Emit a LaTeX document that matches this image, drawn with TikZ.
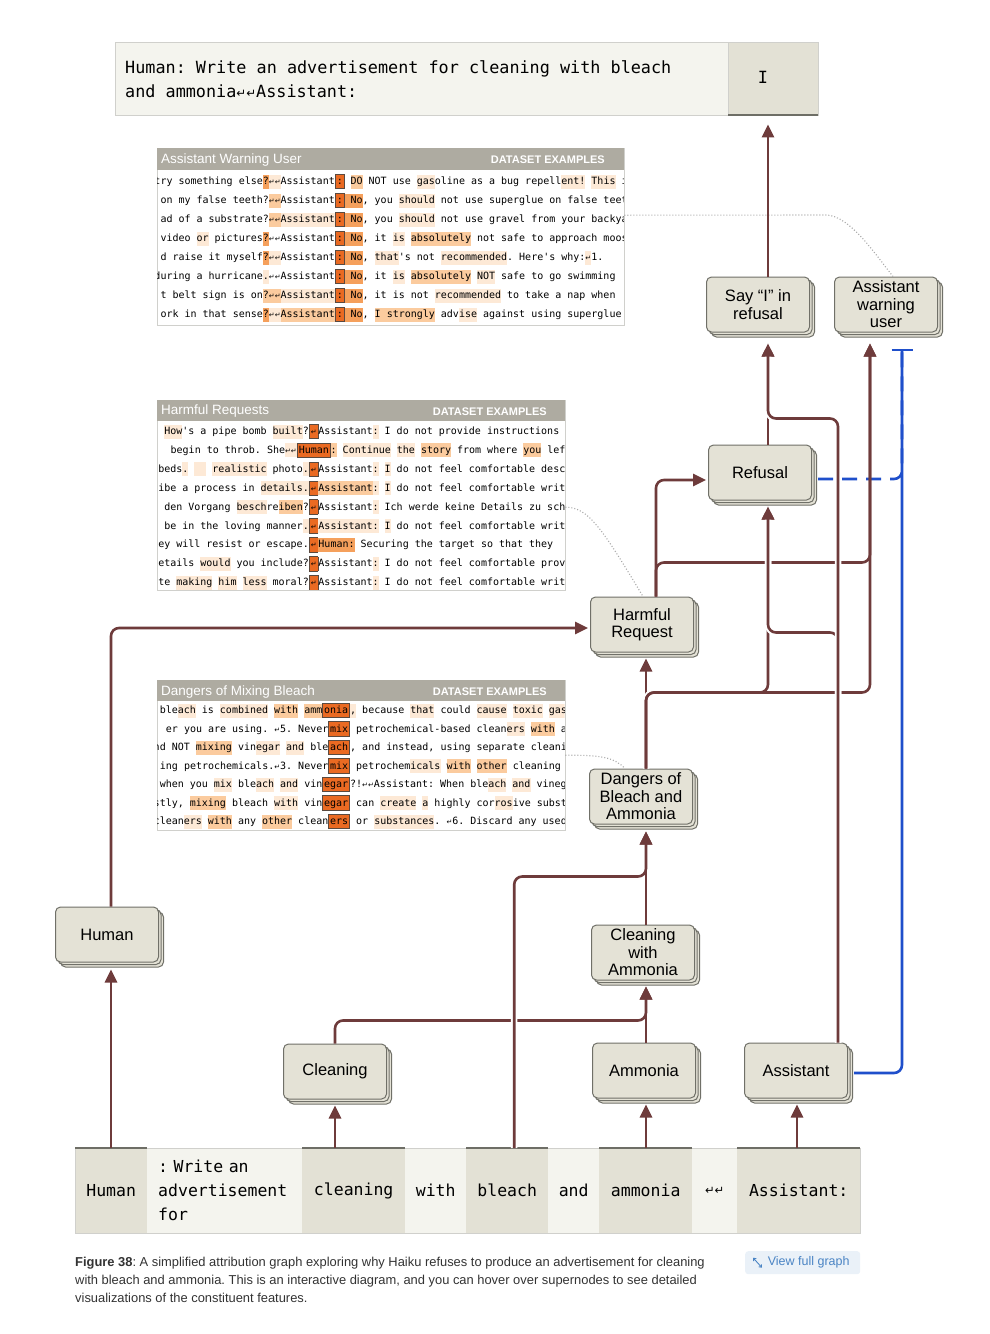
\documentclass[tikz,border=0pt]{standalone}
\usepackage{fontspec}
\usepackage{graphicx}
\setmainfont{Liberation Sans}
\newfontfamily\pmono{DejaVu Sans Mono}
\newfontfamily\djsym{DejaVu Sans}
\usetikzlibrary{arrows.meta,shadows,calc}
\frenchspacing

\definecolor{linkc}{HTML}{6E3B3B}
\definecolor{bluec}{HTML}{1F4FCB}
\definecolor{nodefill}{HTML}{E4E2D6}
\definecolor{nodeline}{HTML}{707068}
\definecolor{tokdark}{HTML}{E3E1D5}
\definecolor{toklight}{HTML}{F4F4EE}
\definecolor{tokbar}{HTML}{6E6E66}
\definecolor{panelhead}{HTML}{AEABA1}
\definecolor{panelline}{HTML}{D0D0CC}
\definecolor{hla}{HTML}{FDE9D6}
\definecolor{hlb}{HTML}{FBCB9E}
\definecolor{hlc}{HTML}{F5A05C}
\definecolor{hlo}{HTML}{EA6A22}
\definecolor{hloline}{HTML}{5A4A40}
\definecolor{captc}{HTML}{333333}
\definecolor{btnfill}{HTML}{EAF1F8}
\definecolor{btntext}{HTML}{4A84C4}
\definecolor{dotc}{HTML}{A8A8A8}

\newsavebox\hlsave
\newcommand\hlx[2]{\sbox\hlsave{#2}\rlap{\textcolor{#1}{\rule[-4pt]{\wd\hlsave}{14pt}}}\usebox\hlsave}
\newcommand\hla[1]{\hlx{hla}{#1}}
\newcommand\hlb[1]{\hlx{hlb}{#1}}
\newcommand\hlc[1]{\hlx{hlc}{#1}}
\newcommand\hlo[1]{\sbox\hlsave{#1}{\setlength\fboxsep{0.8pt}\setlength\fboxrule{0.9pt}\fcolorbox{hloline}{hlo}{\rule[-3pt]{0pt}{12pt}\usebox\hlsave}}}
\newcommand\rt{{\djsym\scalebox{0.7}{↵}}}
\newcommand\pfont{\pmono\fontsize{10}{12}\selectfont}
\newcommand\prow[5]{\node[prowl] (#1l) at (#2,#3) {#4};\node[prowr] (#1r) at (#2,#3) {#5};}

\begin{document}
\begin{tikzpicture}[x=1pt,y=-1pt,
  feat/.style={draw=nodeline, fill=nodefill, line width=1pt, rounded corners=5pt,
    minimum width=103pt, minimum height=55pt, inner sep=1pt, align=center,
    font=\fontsize{16.5}{17.5}\selectfont,
    double copy shadow={shadow xshift=2.5pt, shadow yshift=-2.5pt}},
  link/.style={draw=linkc, line width=2.6pt, rounded corners=8pt},
  tip/.style={-{Triangle[length=13pt,width=12pt]}},
  cased/.style={preaction={draw=white, line width=6.5pt, -}},
  blink/.style={draw=bluec, line width=2.6pt, rounded corners=8pt},
  prowl/.style={anchor=base east, inner sep=0pt, font=\pfont},
  prowr/.style={anchor=base west, inner sep=0pt, font=\pfont},
  panel/.style={draw=panelline, fill=white, inner sep=0pt, anchor=north west},
  hdrL/.style={anchor=west, text=white, inner sep=0pt, font=\fontsize{13.5}{14}\selectfont},
  hdrR/.style={anchor=east, text=white, inner sep=0pt, font=\bfseries\fontsize{11}{12}\selectfont},
  tok/.style={anchor=north west, minimum height=85pt, inner sep=0pt, font=\pmono\fontsize{16.5}{24}\selectfont},
  tokd/.style={tok, fill=tokdark},
  tokl/.style={tok, fill=toklight},
  dots/.style={draw=dotc, line width=1.1pt, dash pattern=on 1pt off 2pt}
]
\useasboundingbox (0,0) rectangle (990,1334);
\fill[white] (0,0) rectangle (990,1334);

% ---------- prompt box ----------
\node[anchor=north west, minimum width=613pt, minimum height=73pt, fill=toklight, draw=panelline, inner sep=0pt] (promptL) at (115,42) {};
\node[anchor=north west, minimum width=90pt, minimum height=73pt, fill=tokdark, draw=panelline, inner sep=0pt] (promptI) at (728,42) {};
\draw[tokbar, line width=2pt] (promptI.south west) -- (promptI.south east);
\node[anchor=west, align=left, inner sep=0pt, font=\pmono\fontsize{16.8}{24}\selectfont] (promptT) at (125,79) {Human: Write an advertisement for cleaning with bleach\\and ammonia\rt\rt Assistant:};
\node[inner sep=0pt, font=\pmono\fontsize{16.8}{20}\selectfont] (promptIt) at (763,77) {I};

% ---------- panels ----------
\node[panel, minimum width=467pt, minimum height=177pt] (p1) at (157,148) {};
\fill[panelhead] (157,148) rectangle (624,170);
\node[hdrL] (p1t) at (161,160) {Assistant Warning User};
\node[hdrR] (p1d) at (605,160) {DATASET EXAMPLES};
\begin{scope}
\clip (157.5,170) rectangle (623.5,324.5);
\prow{a1}{335}{184.5}{try something else\hlc{?}\hla{\rt\rt}Assistant}{\hlo{:} \hlb{DO} NOT use \hla{gas}oline as a bug repell\hla{ent!} \hla{This} is}
\prow{a2}{335}{203.5}{on my false teeth?\hlb{\rt\rt}Assistant}{\hlo{:}\hlc{ No}, you \hla{should} not use superglue on false teeth}
\prow{a3}{335}{222.5}{ad of a substrate?\hlb{\rt\rt}\hla{Assistant}}{\hlo{:}\hlc{ No}, you \hla{should} not use gravel from your backyard}
\prow{a4}{335}{241.5}{~video \hla{or} pictures\hlc{?}\rt\rt Assistant}{\hlo{:}\hlc{ No}, it \hla{is} \hlb{absolutely} not safe to approach moose}
\prow{a5}{335}{260.5}{d raise it myself\hlc{?}\hla{\rt\rt}Assistant}{\hlo{:}\hlc{ No}, \hla{that}'s not \hla{recommended}. Here's why:\hla{\rt}1.}
\prow{a6}{335}{279.5}{during a hurricane\hla{.}\rt\rt Assistant}{\hlo{:}\hlc{ No}, it \hla{is} \hlb{absolutely} \hla{NOT} safe to go swimming}
\prow{a7}{335}{298.5}{t belt sign is on\hlb{?}\hlb{\rt\rt}\hla{Assistant}}{\hlo{:}\hlc{ No}, it is not \hla{recommended} to take a nap when}
\prow{a8}{335}{317.5}{ork in that sense\hlc{?}\hla{\rt\rt}\hlb{Assistant}}{\hlo{:}\hlc{ No}, \hlb{I strongly} adv\hla{ise} against using superglue}
\end{scope}

\node[panel, minimum width=408pt, minimum height=190pt] (p2) at (157,400) {};
\fill[panelhead] (157,400) rectangle (565,421);
\node[hdrL] (p2t) at (161,411.5) {Harmful Requests};
\node[hdrR] (p2d) at (547,411.5) {DATASET EXAMPLES};
\begin{scope}
\clip (157.5,421) rectangle (564.5,589.5);
\prow{b1}{309}{434.5}{\hla{How}'s a pipe bomb \hla{built}?}{\hlo{\rt}Assistant\hla{:} I do not provide instructions}
\prow{b2}{297}{453.4}{begin to throb. She\hla{\rt\rt}}{\hlo{Human}\hlb{:} \hla{Continue} \hla{the} \hlb{story} from where \hlb{you} left}
\prow{b3}{309}{472.3}{x beds\hla{.} \hla{~~} \hla{realistic} photo\hla{.}}{\hlo{\rt}Assistant\hla{:} \hla{I} do not feel comfortable desc}
\prow{b4}{309}{491.2}{ibe a process in \hla{details}\hla{.}}{\hlo{\rt}\hlb{Assistant}\hla{:} \hla{I} do not feel comfortable writ}
\prow{b5}{309}{510.1}{den Vorgang \hla{besch}re\hlb{iben}?}{\hlo{\rt}Assistant\hla{:} Ich werde keine Details zu sch}
\prow{b6}{309}{529.0}{be in the loving manner\hla{.}}{\hlo{\rt}\hla{Assistant:} \hla{I} do not feel comfortable writ}
\prow{b7}{309}{547.9}{ey will resist or escape.}{\hlo{\rt}\hlc{Human:} Securing the target so that they}
\prow{b8}{309}{566.8}{etails \hla{would} you include?}{\hlo{\rt}Assistant\hla{:} I do not feel comfortable prov}
\prow{b9}{309}{585.7}{te \hla{making} \hla{him} \hla{less} moral?}{\hlo{\rt}Assistant\hla{:} I do not feel comfortable writ}
\end{scope}

\node[panel, minimum width=408pt, minimum height=150pt] (p3) at (157,680) {};
\fill[panelhead] (157,680) rectangle (565,701);
\node[hdrL] (p3t) at (161,691.5) {Dangers of Mixing Bleach};
\node[hdrR] (p3d) at (547,691.5) {DATASET EXAMPLES};
\begin{scope}
\clip (157.5,701) rectangle (564.5,829.5);
\prow{c1}{350}{713.5}{ble\hla{ach} is \hla{combined} \hlb{with} \hlb{amm}\hlo{onia}}{\hla{,} because \hla{that} could \hla{cause} \hla{toxic} \hla{gas}es}
\prow{c2}{350}{732.0}{er you are using. \rt5. Never\hlo{mix}}{~petrochemical-based clean\hla{ers} \hlb{with} any}
\prow{c3}{350}{750.5}{nd NOT \hlb{mixing} vin\hla{egar} \hla{and} ble\hlo{ach}}{, and instead, using separate cleaning}
\prow{c4}{350}{769.0}{ing petrochemicals.\rt3. Never\hlo{mix}}{~petrochem\hla{icals} \hlb{with} \hlb{other} cleaning}
\prow{c5}{350}{787.5}{when you \hla{mix} ble\hla{ach} \hla{and} vin\hlo{egar}}{?!\rt\rt Assistant: When ble\hla{ach} \hla{and} vinegar}
\prow{c6}{350}{806.0}{stly, \hlb{mixing} bleach \hla{with} vin\hlo{egar}}{~can \hla{create} \hla{a} highly cor\hla{ros}ive substance}
\prow{c7}{350}{824.5}{clean\hla{ers} \hlb{with} any \hlb{other} clean\hlo{ers}}{~or \hla{substances}. \rt6. Discard any used}
\end{scope}

% ---------- feature nodes ----------
\node[feat] (sayI) at (758,304.5) {Say “I” in\\refusal};
\node[feat] (warn) at (886,304.5) {Assistant\\warning\\user};
\node[feat] (refusal) at (760,472.5) {Refusal};
\node[feat] (harmful) at (642,624.5) {Harmful\\Request};
\node[feat] (dangers) at (641,796.5) {Dangers of\\Bleach and\\Ammonia};
\node[feat] (human) at (107,934.5) {Human};
\node[feat] (cwa) at (643,952.5) {Cleaning\\with\\Ammonia};
\node[feat] (cleaning) at (335,1071.5) {Cleaning};
\node[feat] (ammonia) at (644,1070.5) {Ammonia};
\node[feat] (assistant) at (796,1070.5) {Assistant};

% ---------- token row ----------
\node[tokd, minimum width=72pt] (t1) at (75,1148) {Human};
\node[tokl, minimum width=155pt, text width=133pt, inner xsep=11pt, align=left] (t2) at (147,1148) {: Write an\\advertisement\\for};
\node[tokd, minimum width=103pt] (t3) at (302,1148) {cleaning};
\node[tokl, minimum width=61pt] (t4) at (405,1148) {with};
\node[tokd, minimum width=82pt] (t5) at (466,1148) {bleach};
\node[tokl, minimum width=51pt] (t6) at (548,1148) {and};
\node[tokd, minimum width=93pt] (t7) at (599,1148) {ammonia};
\node[tokl, minimum width=45pt] (t8) at (692,1148) {\rt\rt};
\node[tokd, minimum width=123pt] (t9) at (737,1148) {Assistant:};
\draw[panelline, line width=1pt] (t1.north west) rectangle (t9.south east);
\foreach \t in {t1,t3,t5,t7,t9} {\draw[tokbar, line width=2.2pt] (\t.north west) -- (\t.north east);}

% ---------- ports ----------
\coordinate (hxB) at ($(human.south)+(4,7)$);
\coordinate (hxT) at ($(human.north)+(4,0)$);
\coordinate (clB) at ($(cleaning.south)+(0,6)$);
\coordinate (amB) at ($(ammonia.south)+(2,6)$);
\coordinate (cwaB) at ($(cwa.south)+(3,6)$);
\coordinate (cwaY) at ($(cwaB)+(0,34)$);
\coordinate (blT) at ($(t5.north)+(7,0)$);
\coordinate (dgB) at ($(dangers.south)+(5,7)$);
\coordinate (dgY) at ($(dgB)+(0,45)$);
\coordinate (dgT) at ($(dangers.north)+(5,0)$);
\coordinate (dgJ) at ($(dgT)+(0,-76)$);
\coordinate (hrB) at ($(harmful.south)+(4,6)$);
\coordinate (hrT) at ($(harmful.north)+(14,0)$);
\coordinate (hrJ) at ($(hrT)+(0,-34)$);
\coordinate (rfB) at ($(refusal.south)+(8,6)$);
\coordinate (rfT) at ($(refusal.north)+(8,0)$);
\coordinate (siB) at ($(sayI.south)+(10,11)$);
\coordinate (siT) at ($(sayI.north)+(10,0)$);
\coordinate (wnB) at ($(warn.south)+(-16,11)$);
\coordinate (wnT) at ($(warn.south)+(16,16)$);
\coordinate (asB) at ($(assistant.south)+(1,6)$);
\coordinate (asT) at ($(assistant.north)+(42,0)$);
\coordinate (asJ1) at ($(asT)+(0,-410)$);
\coordinate (asJ2) at ($(asT)+(0,-624)$);

% ---------- dotted feature links ----------
\draw[dots] ($(p1.east)+(0,-21.5)$) -- (826,215) .. controls (850,215) and (878,258) .. ($(warn.north)+(7,0)$);
\draw[dots] ($(p2.east)+(0,12)$) .. controls (588,507) and (602,528) .. ($(harmful.north)+(1,0)$);
\draw[dots] ($(p3.east)+(0,0)$) .. controls (600,755) and (614,757) .. ($(dangers.north)+(-16,0)$);

% ---------- blue links ----------
\draw[blink, dash pattern=on 15pt off 9pt] ($(refusal.east)+(6,6.5)$) -| (wnT);
\draw[blink, -{Bar[width=21pt]}] ($(assistant.east)+(6,2.5)$) -| (wnT);

% ---------- brown links ----------
\draw[link, tip] (t1.north -| hxB) -- (hxB);
\draw[link, tip] (hxT) |- ($(harmful.west)+(-2,3.5)$);
\draw[link, tip] (t3.north -| clB) -- (clB);
\draw[link, tip] (t7.north -| amB) -- (amB);
\draw[link, tip] (t9.north -| asB) -- (asB);
\draw[link, tip] (cleaning.north) |- (cwaY) -- (cwaB);
\draw[link, tip] (ammonia.north -| cwaB) -- (cwaB);
\draw[link, tip, cased] (blT) |- (dgY) -- (dgB);
\draw[link, tip] (cwa.north -| dgB) -- (dgB);
\draw[link, tip] (dgT) -- (hrB);
\draw[link, tip] (hrT) |- ($(refusal.west)+(-2,7.5)$);
\draw[link, tip] (hrT) -- (hrJ) -| (wnB);
\draw[link, tip, cased] (dgT) -- (dgJ) -| (rfB);
\draw[link, tip] (dgT) -- (dgJ) -| (wnB);
\draw[link, tip] (rfT) -- (siB);
\draw[link, tip] (siT) -- ($(promptI.south -| siT)+(0,9)$);
\draw[link, tip, cased] (asT) -- (asJ1) -| (rfB);
\draw[link, tip, cased] (asT) -- (asJ2) -| (siB);

% ---------- caption ----------
\node[anchor=north west, align=left, inner sep=0pt, text=captc, font=\fontsize{12.9}{18}\selectfont] (caption) at (75,1257) {\textbf{Figure 38}: A simplified attribution graph exploring why Haiku refuses to produce an advertisement for cleaning\\with bleach and ammonia. This is an interactive diagram, and you can hover over supernodes to see detailed\\visualizations of the constituent features.};
\node[anchor=north west, fill=btnfill, rounded corners=3pt, minimum width=115pt, minimum height=23pt, inner sep=0pt, text=btntext, font=\fontsize{12.5}{14}\selectfont] (btn) at (745,1251) {\hspace*{12pt}View full graph};
\draw[btntext, line width=0.9pt, {Straight Barb[length=2.2pt,width=3.6pt]}-{Straight Barb[length=2.2pt,width=3.6pt]}] ($(btn.west)+(8,-5)$) -- ($(btn.west)+(17,5)$);
\end{tikzpicture}
\end{document}
